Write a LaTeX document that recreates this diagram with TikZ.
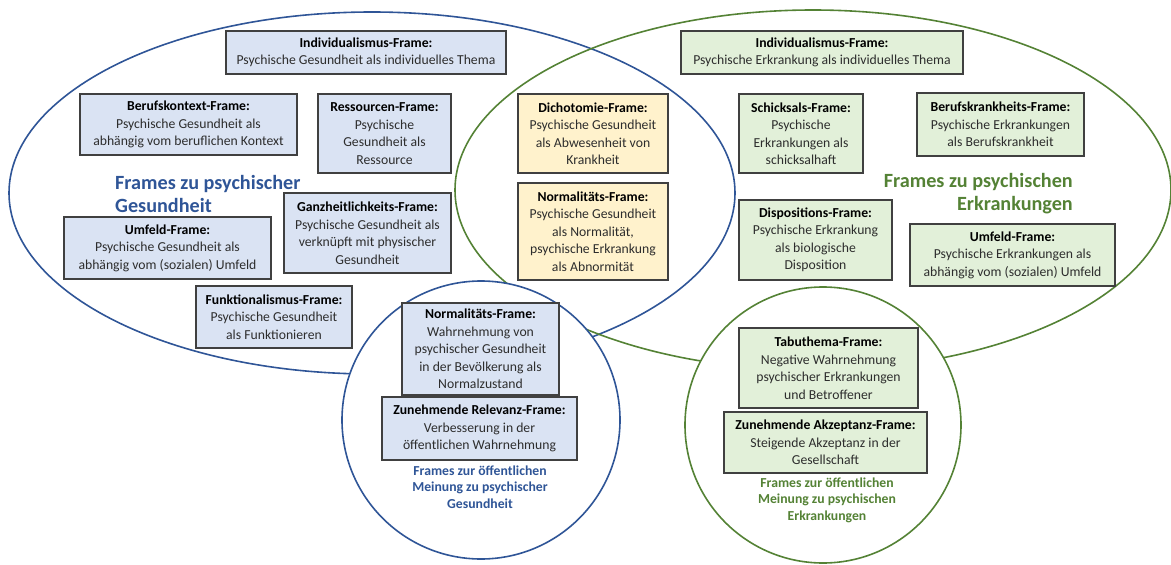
\documentclass[tikz,border=0pt]{standalone}
\usepackage{fontspec}
\setmainfont{Carlito}
\definecolor{blueline}{RGB}{47,85,151}
\definecolor{greenline}{RGB}{84,130,53}
\definecolor{bluefill}{RGB}{218,227,243}
\definecolor{yellowfill}{RGB}{255,242,204}
\definecolor{greenfill}{RGB}{226,240,217}
\definecolor{boxline}{RGB}{64,64,64}
\definecolor{bodytext}{RGB}{45,45,45}
\newcommand{\bodyfont}{\fontsize{13.7}{17.5}\selectfont}
\newcommand{\ttl}[1]{\textbf{\color{black}#1}}
\tikzset{
  framebox/.style={draw=boxline, line width=1.3pt, align=center, inner sep=0pt, font=\bodyfont, text=bodytext},
  bluebox/.style={framebox, fill=bluefill},
  yellowbox/.style={framebox, fill=yellowfill},
  greenbox/.style={framebox, fill=greenfill},
  biglabel/.style={font=\fontsize{20.2}{23}\selectfont\bfseries, inner sep=0pt},
  circlabel/.style={font=\fontsize{13.7}{16.5}\selectfont\bfseries, align=center, inner sep=0pt},
  bigshape/.style={line width=1.6pt}
}
\begin{document}
\begin{tikzpicture}[x=1pt,y=-1pt]
\useasboundingbox (0,0) rectangle (1171,565);
% big ellipses
\draw[bigshape, draw=blueline] (372,193) ellipse [x radius=363pt, y radius=181pt];
\draw[bigshape, draw=greenline] (813,190) ellipse [x radius=358pt, y radius=180pt];
% circles
\draw[bigshape, draw=blueline, fill=white] (481,420) circle [radius=139pt];
\draw[bigshape, draw=greenline, fill=white] (823,425) circle [radius=138pt];
% blue boxes
\node[bluebox, minimum width=280pt, minimum height=43pt] (ind1) at (366,52.5)
  {\ttl{Individualismus-Frame:}\\Psychische Gesundheit als individuelles Thema};
\node[bluebox, minimum width=217pt, minimum height=61pt] (beruf) at (188.5,124.5)
  {\ttl{Berufskontext-Frame:}\\Psychische Gesundheit als\\abhängig vom beruflichen Kontext};
\node[bluebox, minimum width=133pt, minimum height=79pt] (ress) at (384.5,133.5)
  {\ttl{Ressourcen-Frame:}\\Psychische\\Gesundheit als\\Ressource};
\node[bluebox, minimum width=207pt, minimum height=62pt] (umf1) at (167.5,248)
  {\ttl{Umfeld-Frame:}\\Psychische Gesundheit als\\abhängig vom (sozialen) Umfeld};
\node[bluebox, minimum width=167pt, minimum height=80pt] (ganz) at (367.5,233)
  {\ttl{Ganzheitlichkeits-Frame:}\\Psychische Gesundheit als\\verknüpft mit physischer\\Gesundheit};
\node[bluebox, minimum width=156pt, minimum height=62pt] (funk) at (274,317)
  {\ttl{Funktionalismus-Frame:}\\Psychische Gesundheit\\als Funktionieren};
\node[bluebox, minimum width=157pt, minimum height=92pt] (norm1) at (480.5,349)
  {\ttl{Normalitäts-Frame:}\\Wahrnehmung von\\psychischer Gesundheit\\in der Bevölkerung als\\Normalzustand};
\node[bluebox, minimum width=195pt, minimum height=63pt] (zun1) at (479.5,428.5)
  {\ttl{Zunehmende Relevanz-Frame:}\\Verbesserung in der\\öffentlichen Wahrnehmung};
% yellow boxes
\node[yellowbox, minimum width=150pt, minimum height=79pt] (dich) at (593,133.5)
  {\ttl{Dichotomie-Frame:}\\Psychische Gesundheit\\als Abwesenheit von\\Krankheit};
\node[yellowbox, minimum width=150pt, minimum height=97pt] (norm2) at (593,231.5)
  {\ttl{Normalitäts-Frame:}\\Psychische Gesundheit\\als Normalität,\\psychische Erkrankung\\als Abnormität};
% green boxes
\node[greenbox, minimum width=282pt, minimum height=43pt] (ind2) at (822,52.5)
  {\ttl{Individualismus-Frame:}\\Psychische Erkrankung als individuelles Thema};
\node[greenbox, minimum width=124pt, minimum height=79pt] (schick) at (801,133.5)
  {\ttl{Schicksals-Frame:}\\Psychische\\Erkrankungen als\\schicksalhaft};
\node[greenbox, minimum width=167pt, minimum height=63pt] (berufk) at (1000.5,124.5)
  {\ttl{Berufskrankheits-Frame:}\\Psychische Erkrankungen\\als Berufskrankheit};
\node[greenbox, minimum width=153pt, minimum height=80pt] (dispo) at (815.5,240)
  {\ttl{Dispositions-Frame:}\\Psychische Erkrankung\\als biologische\\Disposition};
\node[greenbox, minimum width=205pt, minimum height=62pt] (umf2) at (1012.5,255)
  {\ttl{Umfeld-Frame:}\\Psychische Erkrankungen als\\abhängig vom (sozialen) Umfeld};
\node[greenbox, minimum width=179pt, minimum height=80pt] (tabu) at (828.5,368)
  {\ttl{Tabuthema-Frame:}\\Negative Wahrnehmung\\psychischer Erkrankungen\\und Betroffener};
\node[greenbox, minimum width=203pt, minimum height=61pt] (zun2) at (825.5,442.5)
  {\ttl{Zunehmende Akzeptanz-Frame:}\\Steigende Akzeptanz in der\\Gesellschaft};
% labels
\node[biglabel, text=blueline, align=left, anchor=west] (lblblue) at (115,193.5)
  {Frames zu psychischer\\Gesundheit};
\node[biglabel, text=greenline, align=right, anchor=east] (lblgreen) at (1073,193.5)
  {Frames zu psychischen\\Erkrankungen};
\node[circlabel, text=blueline] (lblcirc1) at (480,487)
  {Frames zur öffentlichen\\Meinung zu psychischer\\Gesundheit};
\node[circlabel, text=greenline] (lblcirc2) at (827,500)
  {Frames zur öffentlichen\\Meinung zu psychischen\\Erkrankungen};
\end{tikzpicture}
\end{document}
